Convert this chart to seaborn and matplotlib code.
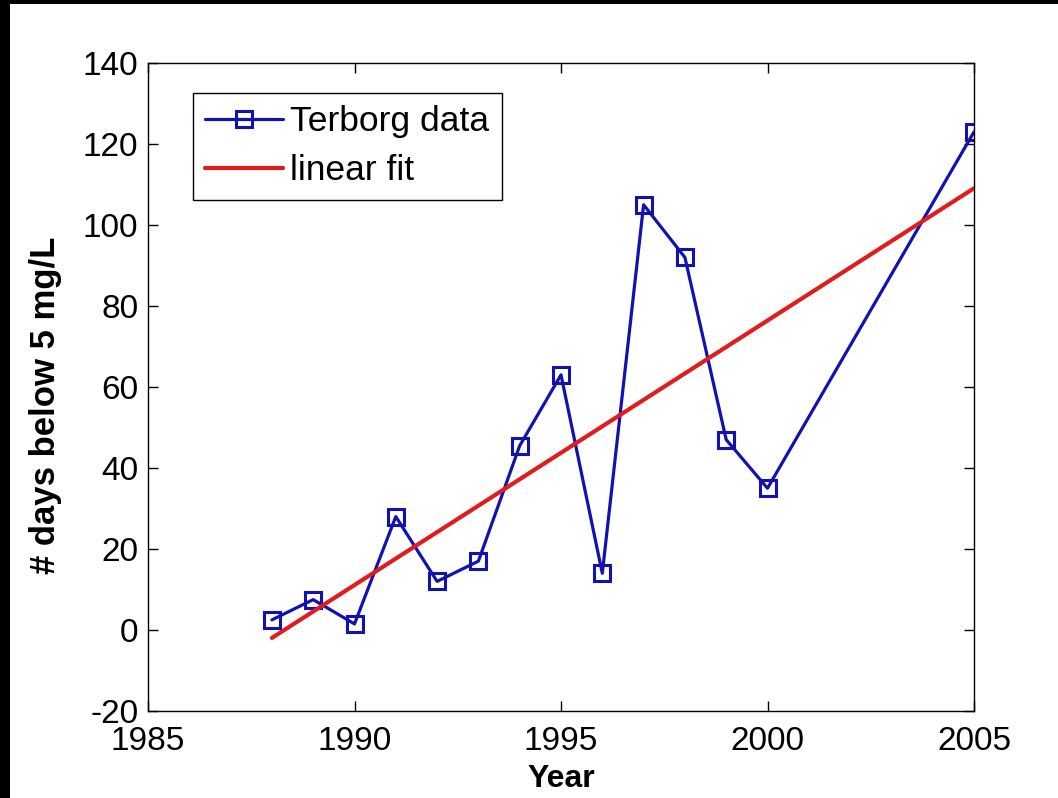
import numpy as np
import pandas as pd
import matplotlib
matplotlib.use("Agg")
import matplotlib.pyplot as plt
import seaborn as sns
from matplotlib.patches import Rectangle

# Dissolved-oxygen record at Terborg: days per year below 5 mg/L
years = [1988, 1989, 1990, 1991, 1992, 1993, 1994, 1995, 1996, 1997, 1998, 1999, 2000, 2005]
days_below = [2.5, 7.5, 1.5, 28, 12, 17, 45.5, 63, 14, 105, 92, 47, 35, 123]

x_ticks = [1985, 1990, 1995, 2000, 2005]
y_ticks = [-20, 0, 20, 40, 60, 80, 100, 120, 140]

data_label = "Terborg data"
fit_label = "linear fit"
x_title = "Year"
y_title = "# days below 5 mg/L"

blue = "#1212b0"
red = "#e01c1c"

sns.set_theme(style="ticks")
plt.rcParams["font.family"] = ["Liberation Sans", "DejaVu Sans"]
plt.rcParams["axes.unicode_minus"] = False
plt.rcParams["text.color"] = "black"
plt.rcParams["axes.labelcolor"] = "black"

W, H = 1058, 798
fig = plt.figure(figsize=(W / 100, H / 100), dpi=100, facecolor="white")
ax = fig.add_axes([148 / W, 1 - 711 / H, 826 / W, 648 / H])
ax.set_facecolor("white")

df = pd.DataFrame({"Year": years, "days": days_below})

sns.lineplot(data=df, x="Year", y="days", ax=ax, color=blue, linewidth=2.3,
             marker="s", markersize=12, markerfacecolor="none",
             markeredgecolor=blue, markeredgewidth=2.2, label=data_label)
sns.regplot(data=df, x="Year", y="days", ax=ax, scatter=False, ci=None,
            truncate=True, color=red, label=fit_label,
            line_kws={"linewidth": 3.0, "zorder": 3})

ax.set_xlim(x_ticks[0], x_ticks[-1])
ax.set_ylim(y_ticks[0], y_ticks[-1])
ax.set_xticks(x_ticks)
ax.set_yticks(y_ticks)
ax.tick_params(direction="in", top=True, right=True, length=7, width=1.0,
               labelsize=24, colors="black")
ax.tick_params(axis="x", pad=11)
ax.tick_params(axis="y", pad=7)
for s in ax.spines.values():
    s.set_visible(True)
    s.set_color("black")
    s.set_linewidth(1.0)

ax.set_xlabel(x_title, fontsize=23, fontweight="bold", labelpad=5)
ax.set_ylabel(y_title, fontsize=25, fontweight="bold")
ax.yaxis.set_label_coords(-0.104, 0.472)

leg = ax.legend(loc="upper left", bbox_to_anchor=(0.0545, 0.954),
                borderaxespad=0, fontsize=25.5, frameon=True, fancybox=False,
                framealpha=1, edgecolor="black", handlelength=2.2,
                handletextpad=0.2, labelspacing=0.45, borderpad=0.35)
leg.get_frame().set_linewidth(1.0)

# dark border strips along the left and top edges of the canvas
fig.patches.append(Rectangle((0, 0), 10 / W, 1, transform=fig.transFigure,
                             facecolor="black", edgecolor="none", zorder=10))
fig.patches.append(Rectangle((0, 1 - 4 / H), 1, 4 / H, transform=fig.transFigure,
                             facecolor="black", edgecolor="none", zorder=10))

fig.savefig("out.png", dpi=100, facecolor="white")
